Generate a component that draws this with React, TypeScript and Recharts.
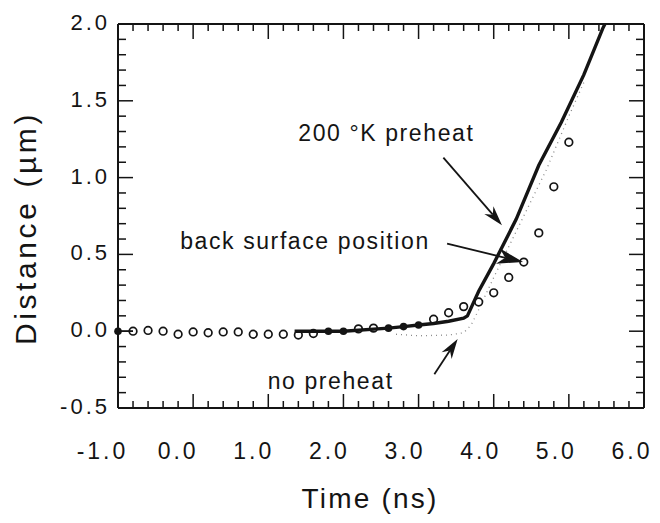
import React from 'react';
import { ComposedChart, Line, Scatter, XAxis, YAxis, ReferenceLine, ReferenceDot } from 'recharts';

// axis ticks
const xMajor = [-1, 0, 1, 2, 3, 4, 5, 6];
const xLabels = ['-1.0', '0.0', '1.0', '2.0', '3.0', '4.0', '5.0', '6.0'];
const yMajor = [-0.5, 0, 0.5, 1, 1.5, 2];
const yLabels = ['-0.5', '0.0', '0.5', '1.0', '1.5', '2.0'];

// measured back surface position (open circles)
const openTimes = [-0.8, -0.6, -0.4, -0.2, 0.0, 0.2, 0.4, 0.6, 0.8, 1.0, 1.2, 1.4, 1.6, 2.2, 2.4, 3.2, 3.4, 3.6, 3.8, 4.0, 4.2, 4.4, 4.6, 4.8, 5.0];
const openDist = [0.0, 0.005, 0.0, -0.02, -0.005, -0.01, -0.005, -0.005, -0.02, -0.02, -0.02, -0.025, -0.015, 0.015, 0.02, 0.078, 0.12, 0.16, 0.19, 0.25, 0.35, 0.45, 0.64, 0.94, 1.23];

// points sitting on the curve (filled)
const filledTimes = [-1.0, 1.8, 2.0, 2.6, 2.8, 3.0];
const filledDist = [0.0, 0.0, 0.0, 0.02, 0.03, 0.04];

// 200 K preheat simulation
const preheatTimes = [1.35, 1.8, 2.0, 2.6, 2.8, 3.0, 3.2, 3.4, 3.6, 3.65, 3.8, 4.0, 4.3, 4.6, 4.9, 5.2, 5.45, 5.48];
const preheatDist = [0.0, 0.0, 0.0, 0.02, 0.03, 0.04, 0.05, 0.065, 0.085, 0.1, 0.26, 0.44, 0.73, 1.08, 1.36, 1.67, 1.97, 2.0];

// no preheat simulation (faint dotted)
const noPreheatTimes = [2.7, 3.0, 3.4, 3.6, 3.7, 3.8, 4.0, 4.4, 4.7, 5.0, 5.2];
const noPreheatDist = [-0.02, -0.03, -0.025, -0.01, 0.04, 0.14, 0.35, 0.75, 1.05, 1.4, 1.62];

// short lead segment at the start
const leadTimes = [-1.0, -0.8];
const leadDist = [0.0, 0.0];

const zip = (ts: number[], ds: number[]) => ts.map((t, i) => ({ t, d: ds[i] }));
const openPts = zip(openTimes, openDist);
const filledPts = zip(filledTimes, filledDist);
const preheatPts = zip(preheatTimes, preheatDist);
const noPreheatPts = zip(noPreheatTimes, noPreheatDist);
const leadPts = zip(leadTimes, leadDist);

const r1 = (v: number) => Math.round(v * 10) / 10;
const xMinor = Array.from({ length: 36 }, (_, i) => r1(-1 + i * 0.2));
const yMinor = Array.from({ length: 26 }, (_, i) => r1(-0.5 + i * 0.1));

const FONT = '"Liberation Sans", Arial, Helvetica, sans-serif';
const INK = '#141414';

const BottomLabel = (props: any) => {
  const { x, y, payload } = props;
  const i = xMajor.indexOf(payload.value);
  return (
    <text x={x - 15 + 0.5 * payload.value} y={y + 51} textAnchor="middle" fontFamily={FONT} fontSize={23} letterSpacing={3} fill={INK}>
      {xLabels[i]}
    </text>
  );
};

const LeftLabel = (props: any) => {
  const { x, y, payload } = props;
  const i = yMajor.indexOf(payload.value);
  return (
    <text x={x - 8} y={y - 2} dy="0.36em" textAnchor="end" fontFamily={FONT} fontSize={22} letterSpacing={3} fill={INK}>
      {yLabels[i]}
    </text>
  );
};

const OpenCircle = (props: any) => (
  <circle cx={props.cx} cy={props.cy} r={3.8} fill="none" stroke={INK} strokeWidth={1.7} />
);
const FilledDot = (props: any) => <circle cx={props.cx} cy={props.cy} r={3.8} fill={INK} />;

// inward tick: starts at the frame point, runs len px toward the second point
const tickShape = (len: number) => (props: any) => {
  const { x1, y1, x2, y2 } = props;
  const a = Math.atan2(y2 - y1, x2 - x1);
  return <line x1={x1} y1={y1} x2={x1 + len * Math.cos(a)} y2={y1 + len * Math.sin(a)} stroke={INK} strokeWidth={1.5} />;
};

// arrow drawn along a reference segment, head at the second point
const arrowShape = (head: number, width: number) => (props: any) => {
  const { x1, y1, x2, y2 } = props;
  const a = Math.atan2(y2 - y1, x2 - x1);
  const bx = x2 - head * Math.cos(a);
  const by = y2 - head * Math.sin(a);
  const nx = -Math.sin(a) * width;
  const ny = Math.cos(a) * width;
  const mx = x2 - head * 0.7 * Math.cos(a);
  const my = y2 - head * 0.7 * Math.sin(a);
  return (
    <g>
      <line x1={x1} y1={y1} x2={mx} y2={my} stroke={INK} strokeWidth={1.8} />
      <polygon points={`${x2},${y2} ${bx + nx},${by + ny} ${mx},${my} ${bx - nx},${by - ny}`} fill={INK} />
    </g>
  );
};

const textShape = (label: string, anchor: 'start' | 'middle' | 'end') => (props: any) => (
  <text x={props.cx} y={props.cy} dy="0.35em" textAnchor={anchor} fontFamily={FONT} fontSize={23} letterSpacing={1.6} fill={INK}>
    {label}
  </text>
);

export default function App() {
  return (
    <div style={{ position: 'absolute', left: 0, top: 0, width: 660, height: 523, background: '#fff' }}>
      <ComposedChart width={660} height={523} margin={{ top: 0, right: 0, bottom: 0, left: 0 }}>
        <XAxis
          dataKey="t"
          type="number"
          domain={[-1, 6]}
          ticks={xMajor}
          interval={0}
          height={115}
          tickSize={0}
          tickMargin={0}
          tickLine={false}
          tick={BottomLabel}
          axisLine={{ stroke: INK, strokeWidth: 2 }}
          label={(p: any) => (
            <text x={370} y={p.viewBox.y + 100} textAnchor="middle" fontFamily={FONT} fontSize={28} letterSpacing={2.2} fill={INK}>
              Time (ns)
            </text>
          )}
        />
        <XAxis xAxisId="top" orientation="top" dataKey="t" type="number" domain={[-1, 6]} height={24} tick={false} tickLine={false} axisLine={{ stroke: INK, strokeWidth: 2 }} />
        <YAxis
          type="number"
          domain={[-0.5, 2]}
          ticks={yMajor}
          interval={0}
          width={118}
          tickSize={0}
          tickMargin={0}
          tickLine={false}
          tick={LeftLabel}
          allowDataOverflow
          axisLine={{ stroke: INK, strokeWidth: 2 }}
          label={(p: any) => {
            const cy = p.viewBox.y + p.viewBox.height / 2 + 12;
            return (
              <text x={36} y={cy} transform={`rotate(-90, 36, ${cy})`} textAnchor="middle" fontFamily={FONT} fontSize={30} letterSpacing={3.6} fill={INK}>
                Distance (µm)
              </text>
            );
          }}
        />
        <YAxis yAxisId="right" orientation="right" type="number" domain={[-0.5, 2]} width={16} tick={false} tickLine={false} axisLine={{ stroke: INK, strokeWidth: 2 }} />

        {/* inward tick marks on the four sides of the frame */}
        {xMinor.map((t) => (
          <ReferenceLine key={`b${t}`} segment={[{ x: t, y: -0.5 }, { x: t, y: 2 }]} shape={tickShape(xMajor.includes(t) ? 14 : 7)} />
        ))}
        {xMinor.map((t) => (
          <ReferenceLine key={`t${t}`} segment={[{ x: t, y: 2 }, { x: t, y: -0.5 }]} shape={tickShape(xMajor.includes(t) ? 15 : 7)} />
        ))}
        {yMinor.map((v) => (
          <ReferenceLine key={`l${v}`} segment={[{ x: -1, y: v }, { x: 6, y: v }]} shape={tickShape(yMajor.includes(v) ? 15 : 8)} />
        ))}
        {yMinor.map((v) => (
          <ReferenceLine key={`r${v}`} segment={[{ x: 6, y: v }, { x: -1, y: v }]} shape={tickShape(yMajor.includes(v) ? 15 : 8)} />
        ))}

        <Line data={noPreheatPts} dataKey="d" type="linear" dot={false} stroke="#8a8a8a" strokeWidth={1.3} strokeDasharray="1 4" isAnimationActive={false} />
        <Line data={leadPts} dataKey="d" type="linear" dot={false} stroke={INK} strokeWidth={1.6} isAnimationActive={false} />
        <Line data={preheatPts} dataKey="d" type="linear" dot={false} stroke={INK} strokeWidth={3.4} isAnimationActive={false} />
        <Scatter data={openPts} dataKey="d" shape={OpenCircle} isAnimationActive={false} />
        <Scatter data={filledPts} dataKey="d" shape={FilledDot} isAnimationActive={false} />

        <ReferenceDot x={1.4} y={1.29} shape={textShape('200 °K preheat', 'start')} />
        <ReferenceLine segment={[{ x: 3.33, y: 1.13 }, { x: 4.11, y: 0.69 }]} shape={arrowShape(20, 6)} />

        <ReferenceDot x={3.15} y={0.59} shape={textShape('back surface position', 'end')} />
        <ReferenceLine segment={[{ x: 3.38, y: 0.57 }, { x: 4.39, y: 0.45 }]} shape={arrowShape(26, 8)} />

        <ReferenceDot x={1.83} y={-0.325} shape={textShape('no preheat', 'middle')} />
        <ReferenceLine segment={[{ x: 3.21, y: -0.28 }, { x: 3.52, y: -0.05 }]} shape={arrowShape(20, 6)} />
      </ComposedChart>
    </div>
  );
}
